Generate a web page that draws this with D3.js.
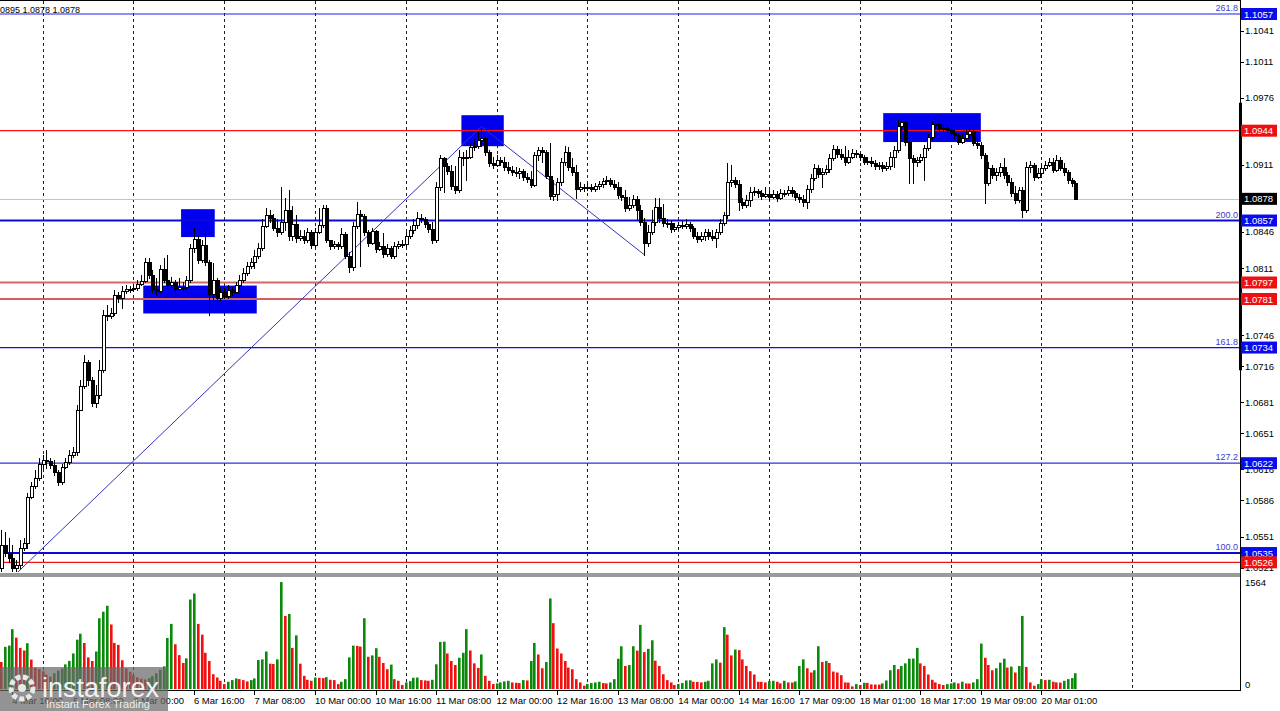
<!DOCTYPE html>
<html><head><meta charset="utf-8">
<script src="https://cdn.jsdelivr.net/npm/d3@7"></script>
<style>
body{margin:0;background:#fff;overflow:hidden;}
svg{display:block;}
text{font-family:"Liberation Sans",Arial,sans-serif;}
</style>
</head><body>
<svg id="chart" width="1280" height="711"></svg>
<script>
// ---------------- DATA ----------------
const firstOpen = 1.0521;
const closes = [
1.0543,1.0535,1.0530,1.0521,1.0523,1.0540,1.0545,1.0589,1.0600,1.0608,
1.0621,1.0625,1.0624,1.0620,1.0613,1.0604,1.0618,1.0623,1.0630,1.0633,
1.0674,1.0697,1.0720,1.0703,1.0680,1.0688,1.0712,1.0766,1.0765,1.0767,
1.0785,1.0782,1.0789,1.0791,1.0791,1.0792,1.0796,1.0798,1.0817,1.0804,
1.0791,1.0789,1.0810,1.0799,1.0795,1.0797,1.0791,1.0793,1.0793,1.0799,
1.0830,1.0839,1.0819,1.0833,1.0817,1.0786,1.0799,1.0782,1.0788,1.0784,
1.0790,1.0788,1.0795,1.0799,1.0806,1.0813,1.0817,1.0823,1.0830,1.0852,
1.0862,1.0859,1.0850,1.0846,1.0856,1.0867,1.0842,1.0854,1.0840,1.0842,
1.0838,1.0846,1.0833,1.0846,1.0853,1.0869,1.0838,1.0832,1.0834,1.0832,
1.0844,1.0823,1.0812,1.0852,1.0863,1.0861,1.0846,1.0835,1.0847,1.0829,
1.0832,1.0825,1.0830,1.0823,1.0832,1.0834,1.0834,1.0842,1.0848,1.0853,
1.0859,1.0858,1.0854,1.0849,1.0838,1.0889,1.0918,1.0910,1.0905,1.0890,
1.0887,1.0919,1.0919,1.0919,1.0928,1.0929,1.0935,1.0937,1.0923,1.0913,
1.0911,1.0916,1.0914,1.0909,1.0906,1.0904,1.0903,1.0905,1.0899,1.0897,
1.0891,1.0920,1.0925,1.0923,1.0900,1.0881,1.0883,1.0894,1.0914,1.0923,
1.0909,1.0904,1.0888,1.0889,1.0889,1.0889,1.0888,1.0890,1.0892,1.0895,
1.0896,1.0892,1.0889,1.0882,1.0880,1.0869,1.0872,1.0878,1.0867,1.0856,
1.0835,1.0846,1.0856,1.0870,1.0859,1.0855,1.0855,1.0849,1.0851,1.0853,
1.0852,1.0854,1.0850,1.0842,1.0839,1.0842,1.0846,1.0842,1.0840,1.0846,
1.0855,1.0862,1.0894,1.0896,1.0892,1.0875,1.0872,1.0877,1.0885,1.0886,
1.0884,1.0881,1.0883,1.0880,1.0883,1.0879,1.0884,1.0884,1.0887,1.0884,
1.0880,1.0878,1.0875,1.0888,1.0898,1.0908,1.0902,1.0904,1.0907,1.0918,
1.0926,1.0921,1.0919,1.0914,1.0919,1.0922,1.0921,1.0919,1.0914,1.0915,
1.0913,1.0910,1.0911,1.0908,1.0910,1.0919,1.0925,1.0949,1.0952,1.0933,
1.0918,1.0914,1.0916,1.0919,1.0927,1.0938,1.0950,1.0950,1.0947,1.0947,
1.0945,1.0942,1.0940,1.0933,1.0937,1.0941,1.0944,1.0932,1.0930,1.0920,
1.0893,1.0908,1.0901,1.0904,1.0909,1.0901,1.0894,1.0884,1.0877,1.0887,
1.0867,1.0909,1.0911,1.0899,1.0903,1.0908,1.0911,1.0914,1.0906,1.0916,
1.0908,1.0904,1.0896,1.0893,1.0878];
const highs = [
1.0557,1.0555,1.0550,1.0543,1.0528,1.0548,1.0550,1.0593,1.0604,1.0615,
1.0627,1.0630,1.0635,1.0627,1.0625,1.0615,1.0621,1.0627,1.0635,1.0638,
1.0678,1.0703,1.0727,1.0722,1.0705,1.0698,1.0722,1.0770,1.0775,1.0772,
1.0790,1.0788,1.0794,1.0795,1.0794,1.0795,1.0799,1.0804,1.0821,1.0821,
1.0809,1.0801,1.0814,1.0821,1.0824,1.0802,1.0799,1.0801,1.0797,1.0803,
1.0834,1.0850,1.0842,1.0838,1.0846,1.0819,1.0816,1.0801,1.0793,1.0792,
1.0795,1.0793,1.0797,1.0804,1.0811,1.0817,1.0821,1.0828,1.0835,1.0858,
1.0869,1.0867,1.0863,1.0858,1.0889,1.0879,1.0887,1.0871,1.0862,1.0848,
1.0848,1.0850,1.0848,1.0850,1.0869,1.0872,1.0872,1.0838,1.0837,1.0836,
1.0850,1.0846,1.0827,1.0856,1.0875,1.0867,1.0863,1.0848,1.0850,1.0848,
1.0836,1.0845,1.0834,1.0832,1.0836,1.0837,1.0838,1.0846,1.0852,1.0858,
1.0865,1.0863,1.0860,1.0856,1.0856,1.0894,1.0920,1.0919,1.0913,1.0911,
1.0910,1.0925,1.0923,1.0925,1.0932,1.0935,1.0943,1.0948,1.0939,1.0925,
1.0919,1.0920,1.0919,1.0919,1.0914,1.0910,1.0909,1.0908,1.0907,1.0903,
1.0905,1.0923,1.0928,1.0928,1.0925,1.0932,1.0896,1.0898,1.0918,1.0929,
1.0928,1.0918,1.0911,1.0894,1.0892,1.0893,1.0892,1.0893,1.0895,1.0898,
1.0900,1.0898,1.0896,1.0894,1.0889,1.0887,1.0880,1.0882,1.0881,1.0872,
1.0859,1.0853,1.0867,1.0879,1.0879,1.0873,1.0858,1.0857,1.0855,1.0856,
1.0857,1.0858,1.0856,1.0852,1.0846,1.0846,1.0849,1.0849,1.0848,1.0849,
1.0858,1.0865,1.0913,1.0911,1.0899,1.0896,1.0879,1.0882,1.0889,1.0889,
1.0888,1.0887,1.0889,1.0887,1.0887,1.0886,1.0888,1.0887,1.0890,1.0889,
1.0886,1.0883,1.0882,1.0891,1.0902,1.0912,1.0911,1.0908,1.0911,1.0921,
1.0930,1.0929,1.0926,1.0929,1.0925,1.0926,1.0925,1.0922,1.0920,1.0919,
1.0919,1.0916,1.0914,1.0914,1.0914,1.0923,1.0929,1.0954,1.0955,1.0954,
1.0935,1.0920,1.0919,1.0921,1.0930,1.0941,1.0952,1.0953,1.0952,1.0950,
1.0949,1.0947,1.0945,1.0942,1.0941,1.0945,1.0947,1.0945,1.0937,1.0933,
1.0922,1.0914,1.0911,1.0908,1.0913,1.0918,1.0904,1.0898,1.0890,1.0889,
1.0889,1.0914,1.0915,1.0913,1.0908,1.0912,1.0915,1.0918,1.0918,1.0920,
1.0919,1.0913,1.0906,1.0898,1.0895];
const lows = [
1.0517,1.0532,1.0526,1.0516,1.0515,1.0521,1.0538,1.0540,1.0588,1.0598,
1.0606,1.0617,1.0617,1.0617,1.0611,1.0601,1.0602,1.0617,1.0621,1.0628,
1.0630,1.0674,1.0695,1.0698,1.0677,1.0676,1.0685,1.0710,1.0761,1.0763,
1.0766,1.0778,1.0772,1.0787,1.0788,1.0789,1.0790,1.0795,1.0797,1.0801,
1.0788,1.0785,1.0788,1.0797,1.0792,1.0793,1.0788,1.0790,1.0790,1.0791,
1.0797,1.0827,1.0816,1.0817,1.0814,1.0766,1.0780,1.0778,1.0780,1.0782,
1.0782,1.0785,1.0787,1.0792,1.0797,1.0804,1.0811,1.0811,1.0821,1.0828,
1.0851,1.0856,1.0848,1.0842,1.0844,1.0848,1.0838,1.0838,1.0836,1.0838,
1.0835,1.0836,1.0830,1.0831,1.0845,1.0851,1.0836,1.0829,1.0830,1.0829,
1.0830,1.0821,1.0807,1.0809,1.0850,1.0813,1.0843,1.0832,1.0834,1.0827,
1.0828,1.0822,1.0823,1.0821,1.0821,1.0830,1.0831,1.0832,1.0840,1.0845,
1.0850,1.0856,1.0851,1.0846,1.0835,1.0836,1.0887,1.0885,1.0902,1.0888,
1.0884,1.0885,1.0911,1.0896,1.0918,1.0925,1.0927,1.0929,1.0920,1.0910,
1.0908,1.0910,1.0911,1.0906,1.0903,1.0901,1.0900,1.0898,1.0896,1.0894,
1.0889,1.0890,1.0916,1.0914,1.0898,1.0878,1.0877,1.0877,1.0891,1.0911,
1.0906,1.0901,1.0879,1.0886,1.0886,1.0887,1.0886,1.0886,1.0888,1.0889,
1.0892,1.0890,1.0888,1.0879,1.0877,1.0866,1.0867,1.0870,1.0858,1.0853,
1.0824,1.0832,1.0844,1.0853,1.0856,1.0852,1.0851,1.0846,1.0847,1.0849,
1.0850,1.0850,1.0847,1.0840,1.0836,1.0837,1.0838,1.0839,1.0838,1.0831,
1.0844,1.0853,1.0859,1.0890,1.0889,1.0867,1.0869,1.0870,1.0871,1.0882,
1.0880,1.0878,1.0880,1.0877,1.0879,1.0876,1.0878,1.0881,1.0882,1.0881,
1.0877,1.0875,1.0871,1.0869,1.0885,1.0896,1.0899,1.0889,1.0902,1.0904,
1.0916,1.0919,1.0917,1.0911,1.0913,1.0918,1.0919,1.0916,1.0912,1.0912,
1.0910,1.0907,1.0907,1.0905,1.0906,1.0907,1.0909,1.0923,1.0945,1.0930,
1.0893,1.0893,1.0910,1.0914,1.0896,1.0925,1.0936,1.0947,1.0945,1.0944,
1.0943,1.0940,1.0937,1.0931,1.0932,1.0936,1.0938,1.0930,1.0927,1.0918,
1.0874,1.0891,1.0898,1.0896,1.0900,1.0898,1.0891,1.0881,1.0874,1.0875,
1.0860,1.0865,1.0904,1.0896,1.0898,1.0901,1.0906,1.0910,1.0904,1.0905,
1.0906,1.0901,1.0893,1.0890,1.0878];
const volumes = [
394,616,635,875,750,601,563,669,
430,310,290,260,210,180,230,270,300,360,410,520,
721,808,673,462,409,548,1034,1130,1217,943,673,645,
420,300,250,200,170,150,140,160,190,230,280,330,
746,952,654,495,380,447,1308,1395,952,794,529,409,216,168,120,72,
106,130,154,144,130,111,130,154,423,433,548,370,365,433,1563,1068,1097,601,784,370,
192,135,120,168,164,159,173,135,130,72,106,144,462,635,630,620,1034,471,491,596,
471,380,289,356,144,120,58,96,115,164,168,130,125,120,135,361,688,692,519,409,
351,457,529,875,563,375,308,505,192,120,72,82,96,111,120,96,91,87,130,125,
409,673,505,303,394,1323,962,592,519,409,313,289,144,96,48,72,87,96,106,87,
82,96,144,442,625,337,351,625,560,
938,539,587,712,414,337,216,130,96,58,
72,87,125,128,106,104,96,106,120,375,
433,385,904,794,491,577,568,433,337,260,
212,106,104,96,115,120,106,82,120,96,
94,111,337,433,303,241,274,625,394,409,
380,255,241,202,96,94,38,72,58,91,
89,67,65,64,82,125,274,351,289,337,
375,443,445,601,375,337,212,135,96,72,
58,72,82,96,82,106,82,80,96,144,
664,457,351,274,303,385,443,313,327,241,
337,1068,322,96,48,72,144,130,135,106,
96,94,120,144,160,231];
const volumeMax = 1564;
const timeLabels = ["4 Mar 16:00","5 Mar 08:00","6 Mar 00:00","6 Mar 16:00","7 Mar 08:00","10 Mar 00:00","10 Mar 16:00","11 Mar 08:00","12 Mar 00:00","12 Mar 16:00","13 Mar 08:00","14 Mar 00:00","14 Mar 16:00","17 Mar 09:00","18 Mar 01:00","18 Mar 17:00","19 Mar 09:00","20 Mar 01:00"];
const timeLabelBars = [3,19,35,51,67,83,99,115,131,147,163,179,195,211,227,243,259,275];
const gridBars = [11,35,59,83,107,131,155,179,203,227,251,275,299];
const priceTicks = [1.1041,1.1011,1.0976,1.0911,1.0881,1.0846,1.0811,1.0746,1.0716,1.0681,1.0651,1.0616,1.0586,1.0551,1.0521];
const fibLevels = [1.1057,1.0857,1.0734,1.0622,1.0535];
const fibNames = ["261.8","200.0","161.8","127.2","100.0"];
const redLevels = [1.0944,1.0797,1.0781,1.0526];
const lastPrice = 1.0878;
const headerText = "0895 1.0878 1.0878";
const zoneBars = [[48.1,56.0],[38.1,67.1],[122.2,132.4],[233.7,258.5]];
const zonePrices = [[1.0868,1.0841],[1.0794,1.0767],[1.0959,1.0929],[1.0961,1.0933]];
const zigzagBars = [4,127,170];
const axisMarker = [1.0971,1.0712];

// ---------------- DRAW ----------------
const svg = d3.select("#chart");
const W = 1280, AX = 1240;
const x = d3.scaleLinear().domain([0, 284]).range([1, 1075.4]);
const y = d3.scaleLinear().domain([1.0521, 1.1057]).range([567.5, 14]);
const yv = d3.scaleLinear().domain([0, volumeMax]).range([689, 582]);
const px = v => Math.round(x(v)) + 0.5;
const py = v => Math.round(y(v)) + 0.5;

svg.append("rect").attr("width", W).attr("height", 711).attr("fill", "#fff");
svg.append("defs").append("clipPath").attr("id","mainclip")
  .append("rect").attr("x",0).attr("y",0).attr("width",AX).attr("height",572);

// vertical dashed grid
svg.append("g").selectAll("line").data(gridBars).join("line")
  .attr("x1", d => px(d)).attr("x2", d => px(d))
  .attr("y1", 1).attr("y2", 691)
  .attr("stroke", "#222").attr("stroke-width", 1).attr("stroke-dasharray", "3,3");

// zones (blue rectangles)
const half = (x(1) - x(0)) / 2;
svg.append("g").selectAll("rect").data(zoneBars).join("rect")
  .attr("x", d => x(d[0]) - half)
  .attr("width", d => x(d[1]) - x(d[0]) + 2*half)
  .attr("y", (d,i) => y(zonePrices[i][0]))
  .attr("height", (d,i) => y(zonePrices[i][1]) - y(zonePrices[i][0]))
  .attr("fill", "#0000ee");

// horizontal levels
const main = svg.append("g").attr("clip-path","url(#mainclip)");
main.append("line").attr("x1",0).attr("x2",AX).attr("y1",py(lastPrice)).attr("y2",py(lastPrice))
  .attr("stroke","#c4c4c4").attr("stroke-width",1);
const fibStyle = [{c:"#1e1ef0",w:1.2},{c:"#0a0ad8",w:2},{c:"#1010e0",w:1.2},{c:"#3030e0",w:1.2},{c:"#0a0ad8",w:2}];
fibLevels.forEach((p,i) => {
  main.append("line").attr("x1",0).attr("x2",AX).attr("y1",y(p)).attr("y2",y(p))
    .attr("stroke",fibStyle[i].c).attr("stroke-width",fibStyle[i].w);
  svg.append("text").attr("x",AX-2).attr("y",y(p)-3).attr("text-anchor","end")
    .attr("font-size",9).attr("fill","#3c3cc8").text(fibNames[i]);
});
const redStyle = [{c:"#ff1010",w:1.3},{c:"#d06868",w:2},{c:"#d06060",w:2},{c:"#ee1515",w:1.2}];
redLevels.forEach((p,i) => {
  main.append("line").attr("x1",0).attr("x2",AX).attr("y1",y(p)).attr("y2",y(p))
    .attr("stroke",redStyle[i].c).attr("stroke-width",redStyle[i].w);
});

// zigzag line
const zz = zigzagBars.map((b,i) => [x(b), y(i===1 ? highs[b] : lows[b])]);
main.append("path").attr("d", d3.line()(zz)).attr("fill","none")
  .attr("stroke","#3434b8").attr("stroke-width",1);

// candles
const candles = closes.map((c,i) => ({i, o: i ? closes[i-1] : firstOpen, h: highs[i], l: lows[i], c}));
const cg = main.append("g");
cg.selectAll("line").data(candles).join("line")
  .attr("x1", d => px(d.i)).attr("x2", d => px(d.i))
  .attr("y1", d => Math.round(y(d.h))).attr("y2", d => Math.round(y(d.l)) + 1)
  .attr("stroke", "#000").attr("stroke-width", 1).attr("shape-rendering","crispEdges");
cg.selectAll("rect").data(candles).join("rect")
  .attr("x", d => Math.round(x(d.i)) - 1)
  .attr("width", 3)
  .attr("y", d => Math.round(y(Math.max(d.o,d.c))))
  .attr("height", d => Math.max(1, Math.round(y(Math.min(d.o,d.c))) - Math.round(y(Math.max(d.o,d.c)))))
  .attr("fill", d => d.c > d.o ? "#fff" : "#000")
  .attr("stroke", "#000").attr("stroke-width", 1)
  .attr("shape-rendering","crispEdges");

// header text & top border
svg.append("line").attr("x1",0).attr("x2",AX).attr("y1",0.5).attr("y2",0.5).attr("stroke","#000");
svg.append("text").attr("x",0).attr("y",13).attr("font-size",9).attr("fill","#000").text(headerText);

// separator & volume panel
svg.append("rect").attr("x",0).attr("y",573).attr("width",AX).attr("height",4).attr("fill","#9a9a9a");
svg.append("g").selectAll("rect").data(volumes).join("rect")
  .attr("x", (d,i) => Math.round(x(i)) - 1)
  .attr("width", 2.6)
  .attr("y", d => yv(d))
  .attr("height", d => yv(0) - yv(d))
  .attr("fill", (d,i) => (i > 0 && d > volumes[i-1]) ? "#0a8a0a" : "#f01010");
svg.append("line").attr("x1",0).attr("x2",AX).attr("y1",690.5).attr("y2",690.5).attr("stroke","#000");

// right axis
svg.append("line").attr("x1",AX+0.5).attr("x2",AX+0.5).attr("y1",0).attr("y2",691).attr("stroke","#000");
svg.append("line").attr("x1",AX+0.5).attr("x2",AX+0.5).attr("y1",y(axisMarker[0])).attr("y2",y(axisMarker[1]))
  .attr("stroke","#000").attr("stroke-width",3);
const ticks = svg.append("g");
priceTicks.forEach(p => {
  ticks.append("line").attr("x1",AX).attr("x2",AX+4).attr("y1",py(p)).attr("y2",py(p)).attr("stroke","#000");
  ticks.append("text").attr("x",AX+5).attr("y",y(p)+3.5).attr("font-size",9.5).attr("fill","#000").text(p.toFixed(4));
});
function boxLabel(p, col) {
  svg.append("rect").attr("x",AX+1).attr("y",y(p)-6).attr("width",36).attr("height",12).attr("fill",col);
  svg.append("text").attr("x",AX+4).attr("y",y(p)+3.5).attr("font-size",9.5).attr("fill","#fff").text(p.toFixed(4));
}
fibLevels.forEach(p => boxLabel(p, "#0a0aee"));
redLevels.forEach(p => boxLabel(p, "#ee1010"));
boxLabel(lastPrice, "#000");

// volume axis labels
svg.append("text").attr("x",AX+5).attr("y",yv(volumeMax)+3.5).attr("font-size",9.5).text(volumeMax);
svg.append("text").attr("x",AX+5).attr("y",yv(0)-1).attr("font-size",9.5).text("0");

// time axis
timeLabelBars.forEach((b,i) => {
  svg.append("line").attr("x1",px(b)).attr("x2",px(b)).attr("y1",691).attr("y2",695).attr("stroke","#000");
  svg.append("text").attr("x",x(b)).attr("y",704).attr("font-size",9.5).attr("fill","#000").text(timeLabels[i]);
});

// watermark logo
const logo = svg.append("g");
logo.append("rect").attr("x",0).attr("y",667).attr("width",168).attr("height",44).attr("fill","rgba(105,105,105,0.72)");
logo.append("circle").attr("cx",22).attr("cy",688).attr("r",11).attr("fill","none").attr("stroke","#e8e8e8").attr("stroke-width",5).attr("stroke-dasharray","5,2.5");
logo.append("circle").attr("cx",22).attr("cy",688).attr("r",4).attr("fill","#e8e8e8");
logo.append("text").attr("x",42).attr("y",697).attr("font-size",27).attr("fill","#f2f2f2").text("instaforex");
logo.append("text").attr("x",46).attr("y",708).attr("font-size",11).attr("fill","#eeeeee").text("Instant Forex Trading");
</script>
</body></html>
